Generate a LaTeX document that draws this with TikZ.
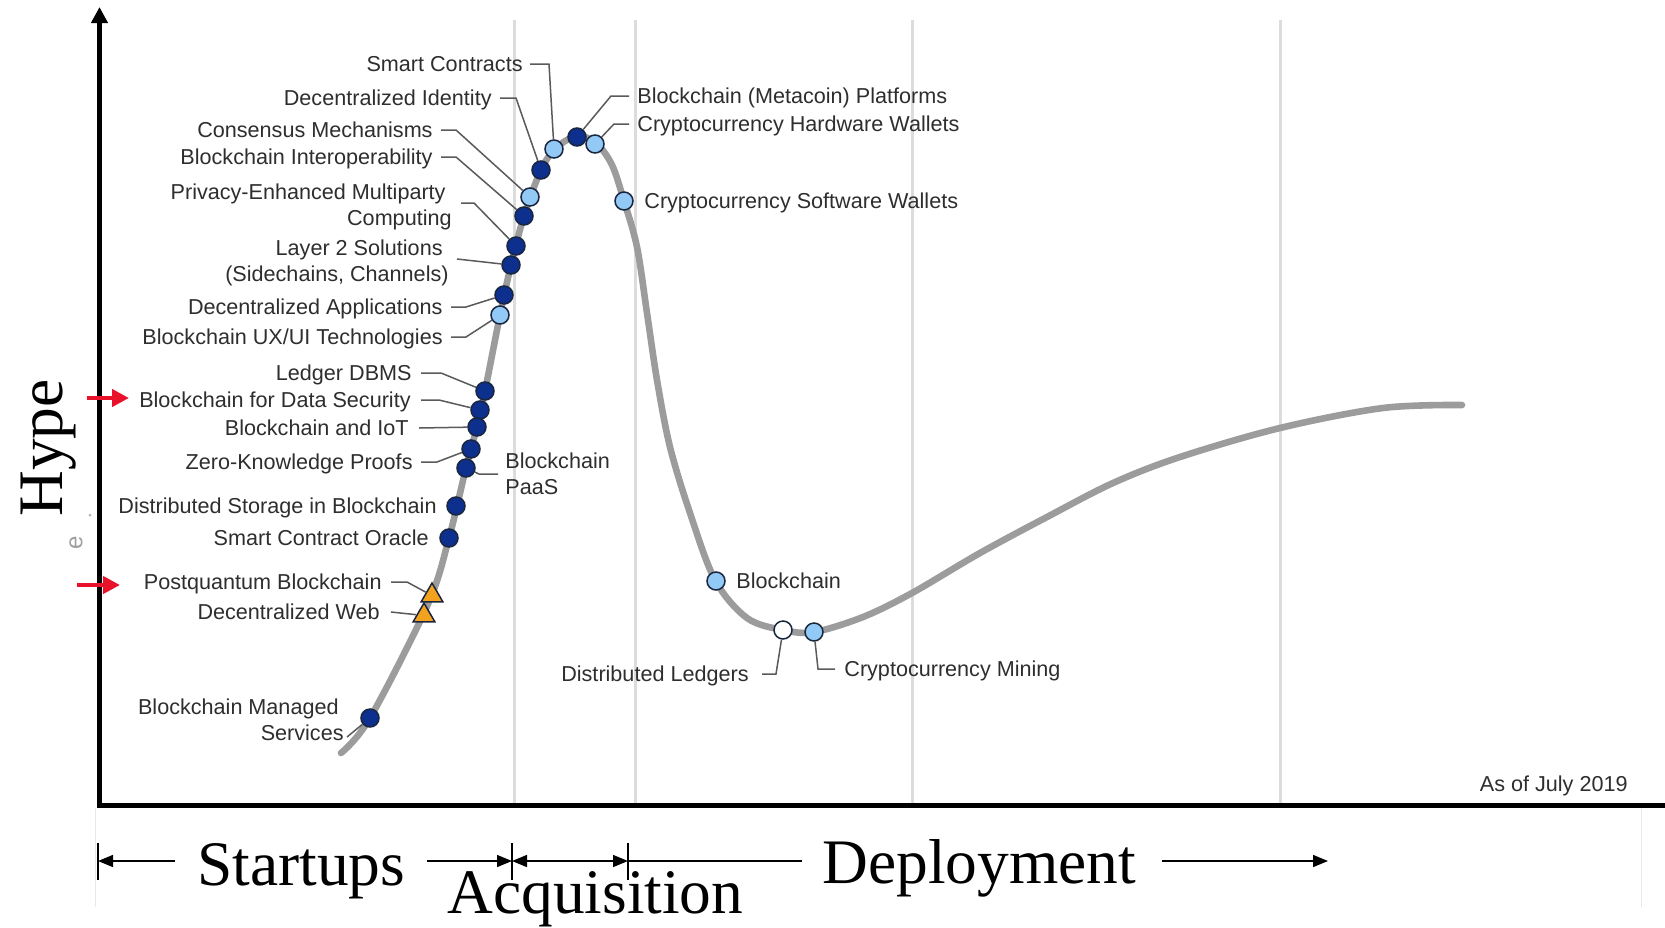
\documentclass[tikz,border=0pt]{standalone}
\usepackage{fontspec}
\setmainfont{Liberation Serif}
\newfontfamily\labfont{Liberation Sans}
\usetikzlibrary{arrows.meta,shapes.geometric}

\definecolor{labgray}{HTML}{2E2E2E}
\definecolor{curvegray}{HTML}{9C9C9C}
\definecolor{gridgray}{HTML}{DCDCDC}
\definecolor{leadgray}{HTML}{5A5A5A}
\definecolor{darkdot}{HTML}{0D2F8E}
\definecolor{lightdot}{HTML}{93C9F5}
\definecolor{dotline}{HTML}{1A2640}
\definecolor{triorange}{HTML}{F2A21E}
\definecolor{hypered}{HTML}{E8132B}

\begin{document}
\begin{tikzpicture}[x=0.5pt,y=-0.5pt,
  lab/.style={font=\labfont\fontsize{10.8}{13}\selectfont, text=labgray,
    inner sep=0pt, text height=7.7pt, text depth=0pt},
  dotd/.style={circle, draw=dotline, line width=0.75pt, fill=darkdot,
    minimum size=9pt, inner sep=0pt},
  dotl/.style={dotd, fill=lightdot},
  dotw/.style={dotd, fill=white},
  tribox/.style={regular polygon, regular polygon sides=3, draw=dotline,
    line width=0.75pt, fill=triorange, minimum size=12.5pt, inner sep=0pt},
  leader/.style={draw=leadgray, line width=0.75pt},
  phase/.style={font=\fontsize{31.7}{36}\selectfont, inner sep=0pt},
  dim/.style={line width=0.7pt},
  dimtip/.style={-{Triangle[length=7.5pt,width=6pt]}},
  grid/.style={draw=gridgray, line width=1.5pt},
  hypearrow/.style={draw=hypered, line width=2.25pt,
    -{Triangle[length=8.5pt,width=8.5pt]}},
]
\fill[white] (0,0) rectangle (1665,927);
\useasboundingbox (0,0) rectangle (1665,927);

% phase grid lines
\foreach \gx in {514,635,912,1280}
  \draw[grid] (\gx,20) -- (\gx,803);

% faint frame edges below the axis
\draw[gray!18, line width=0.5pt] (95,808) -- (95,907);
\draw[gray!18, line width=0.5pt] (1641,808) -- (1641,907);

% hype cycle curve
\draw[curvegray, line width=3.3pt, line cap=round]
  plot[smooth, tension=0.55] coordinates {
  (341,753) (370,718) (428,604) (449,538) (466,468) (481,410)
  (500,315) (511,265) (524,216) (541,170) (556,148) (577,136)
  (596,143) (612,165) (624,201) (637,247) (647,313) (657,380)
  (670,447) (690,513) (715,580) (747,618) (783,630) (814,632)
  (863,617) (912,593) (980,553) (1047,517) (1113,483) (1180,457)
  (1280,428) (1383,408) (1462,405)};

% technology markers
\node[dotl] (dSC)   at (554,149) {};
\node[dotd] (dDI)   at (541,170) {};
\node[dotl] (dCons) at (530,197) {};
\node[dotd] (dBI)   at (524,216) {};
\node[dotd] (dPE)   at (516,246) {};
\node[dotd] (dL2)   at (511,265) {};
\node[dotd] (dDA)   at (504,295) {};
\node[dotl] (dUX)   at (500,315) {};
\node[dotd] (dLD)   at (485,391) {};
\node[dotd] (dDS)   at (480,410) {};
\node[dotd] (dIoT)  at (477,427) {};
\node[dotd] (dZK)   at (471,449) {};
\node[dotd] (dPaaS) at (466,468) {};
\node[dotd] (dStor) at (456,506) {};
\node[dotd] (dOr)   at (449,538) {};
\node[tribox] (tPQ) at (432,595.5) {};
\node[tribox] (tDW) at (424,615.5) {};
\node[dotd] (dMS)   at (370,718) {};
\node[dotd] (dMeta) at (577,137) {};
\node[dotl] (dHW)   at (595,144) {};
\node[dotl] (dSW)   at (624,201) {};
\node[dotl] (dBC)   at (716,581) {};
\node[dotw] (dDL)   at (783,630) {};
\node[dotl] (dMin)  at (814,632) {};

% labels on the left of the rising slope
\node[lab, anchor=east] (lSC)   at (523,64)  {Smart Contracts};
\node[lab, anchor=east] (lDI)   at (492,98)  {Decentralized Identity};
\node[lab, anchor=east] (lCons) at (433,130) {Consensus Mechanisms};
\node[lab, anchor=east] (lBI)   at (433,157) {Blockchain Interoperability};
\node[lab, anchor=east] (lPE1)  at (446,192) {Privacy-Enhanced Multiparty};
\node[lab, anchor=east] (lPE2)  at (452,218) {Computing};
\node[lab, anchor=east] (lL21)  at (443,248) {Layer 2 Solutions};
\node[lab, anchor=east] (lL22)  at (449,274) {(Sidechains, Channels)};
\node[lab, anchor=east] (lDA)   at (443,307) {Decentralized Applications};
\node[lab, anchor=east] (lUX)   at (443,337) {Blockchain UX/UI Technologies};
\node[lab, anchor=east] (lLD)   at (412,373) {Ledger DBMS};
\node[lab, anchor=east] (lDS)   at (411,400) {Blockchain for Data Security};
\node[lab, anchor=east] (lIoT)  at (409,428) {Blockchain and IoT};
\node[lab, anchor=east] (lZK)   at (413,462) {Zero-Knowledge Proofs};
\node[lab, anchor=east] (lStor) at (437,506) {Distributed Storage in Blockchain};
\node[lab, anchor=east] (lOr)   at (429,538) {Smart Contract Oracle};
\node[lab, anchor=east] (lPQ)   at (382,582) {Postquantum Blockchain};
\node[lab, anchor=east] (lDW)   at (380,612) {Decentralized Web};
\node[lab, anchor=east] (lMS1)  at (339,707) {Blockchain Managed};
\node[lab, anchor=east] (lMS2)  at (344,733) {Services};

% labels on the right
\node[lab, anchor=west] (lPaaS1) at (505,461) {Blockchain};
\node[lab, anchor=west] (lPaaS2) at (505,487) {PaaS};
\node[lab, anchor=west] (lMeta)  at (637,96)  {Blockchain (Metacoin) Platforms};
\node[lab, anchor=west] (lHW)    at (637,124) {Cryptocurrency Hardware Wallets};
\node[lab, anchor=west] (lSW)    at (644,201) {Cryptocurrency Software Wallets};
\node[lab, anchor=west] (lBC)    at (736,581) {Blockchain};
\node[lab, anchor=east] (lDL)    at (749,674) {Distributed Ledgers};
\node[lab, anchor=west] (lMin)   at (844,669) {Cryptocurrency Mining};
\node[lab, anchor=east] (lAsOf)  at (1628,784) {As of July 2019};

% leader lines
\coordinate (cPE) at (461,203);
\coordinate (cL2) at (457,259);
\coordinate (cMS) at (347,737);
\draw[leader] ([xshift=3.5pt]lSC.east) -- ++(19,0) -- (dSC);
\draw[leader] ([xshift=4pt]lDI.east) -- ++(16,0) -- (dDI);
\draw[leader] ([xshift=4pt]lCons.east) -- ++(15,0) -- (dCons);
\draw[leader] ([xshift=4pt]lBI.east) -- ++(15,0) -- (dBI);
\draw[leader] (cPE) -- ++(13,0) -- (dPE);
\draw[leader] (cL2) -- (dL2);
\draw[leader] ([xshift=4pt]lDA.east) -- ++(15,0) -- (dDA);
\draw[leader] ([xshift=4pt]lUX.east) -- ++(15,0) -- (dUX);
\draw[leader] ([xshift=4.5pt]lLD.east) -- ++(20,0) -- (dLD);
\draw[leader] ([xshift=5pt]lDS.east) -- ++(18,0) -- (dDS);
\draw[leader] ([xshift=5pt]lIoT.east) -- (dIoT);
\draw[leader] ([xshift=4pt]lZK.east) -- ++(16,0) -- (dZK);
\draw[leader] ([xshift=4.5pt]lPQ.east) -- ++(16,0) -- (tPQ);
\draw[leader] ([xshift=5.5pt]lDW.east) -- (tDW);
\draw[leader] (cMS) -- (dMS);
\draw[leader] (dPaaS) -- (479,474) -- ([xshift=-3.5pt]lPaaS1.west |- 0,474);
\draw[leader] ([xshift=-4pt]lMeta.west) -- ++(-18,0) -- (dMeta);
\draw[leader] ([xshift=-4pt]lHW.west) -- ++(-15,0) -- (dHW);
\draw[leader] ([xshift=6.5pt]lDL.east) -- (776,674) -- (dDL);
\draw[leader] ([xshift=-4.5pt]lMin.west) -- (818,669) -- (dMin);

% axes
\draw[line width=2.8pt, -{Triangle[length=8pt,width=8pt]}] (99.5,808) -- (99.5,7);
\draw[line width=2.6pt] (97,805.5) -- (1665,805.5);

% axis title and remnants
\node[phase, rotate=90, anchor=base west] (hype) at (62,517) {Hype};
\node[font=\labfont\fontsize{12}{14}\selectfont, text=gray!75, rotate=90,
  inner sep=0pt] (ee) at (76,543) {e};
\fill[gray!60] (90,515) circle (1.5);

% highlight arrows
\draw[hypearrow] (87,398) -- (129,398);
\draw[hypearrow] (77,585) -- (120,585);

% phase annotation below the axis
\draw[dim] (98,843) -- (98,880);
\draw[dim] (512,843) -- (512,880);
\draw[dim] (628,843) -- (628,880);
\draw[dim, dimtip] (175,861) -- (98,861);
\draw[dim, dimtip] (427,861) -- (512,861);
\draw[dim, {Triangle[length=7.5pt,width=6pt]}-{Triangle[length=7.5pt,width=6pt]}] (512,861) -- (628,861);
\draw[dim] (628,861) -- (802,861);
\draw[dim, dimtip] (1162,861) -- (1328,861);
\node[phase, anchor=base west] (startups) at (197,885) {Startups};
\node[phase, anchor=base west] (acq) at (447,913) {Acquisition};
\node[phase, anchor=base west] (deploy) at (822,883) {Deployment};
\end{tikzpicture}
\end{document}
